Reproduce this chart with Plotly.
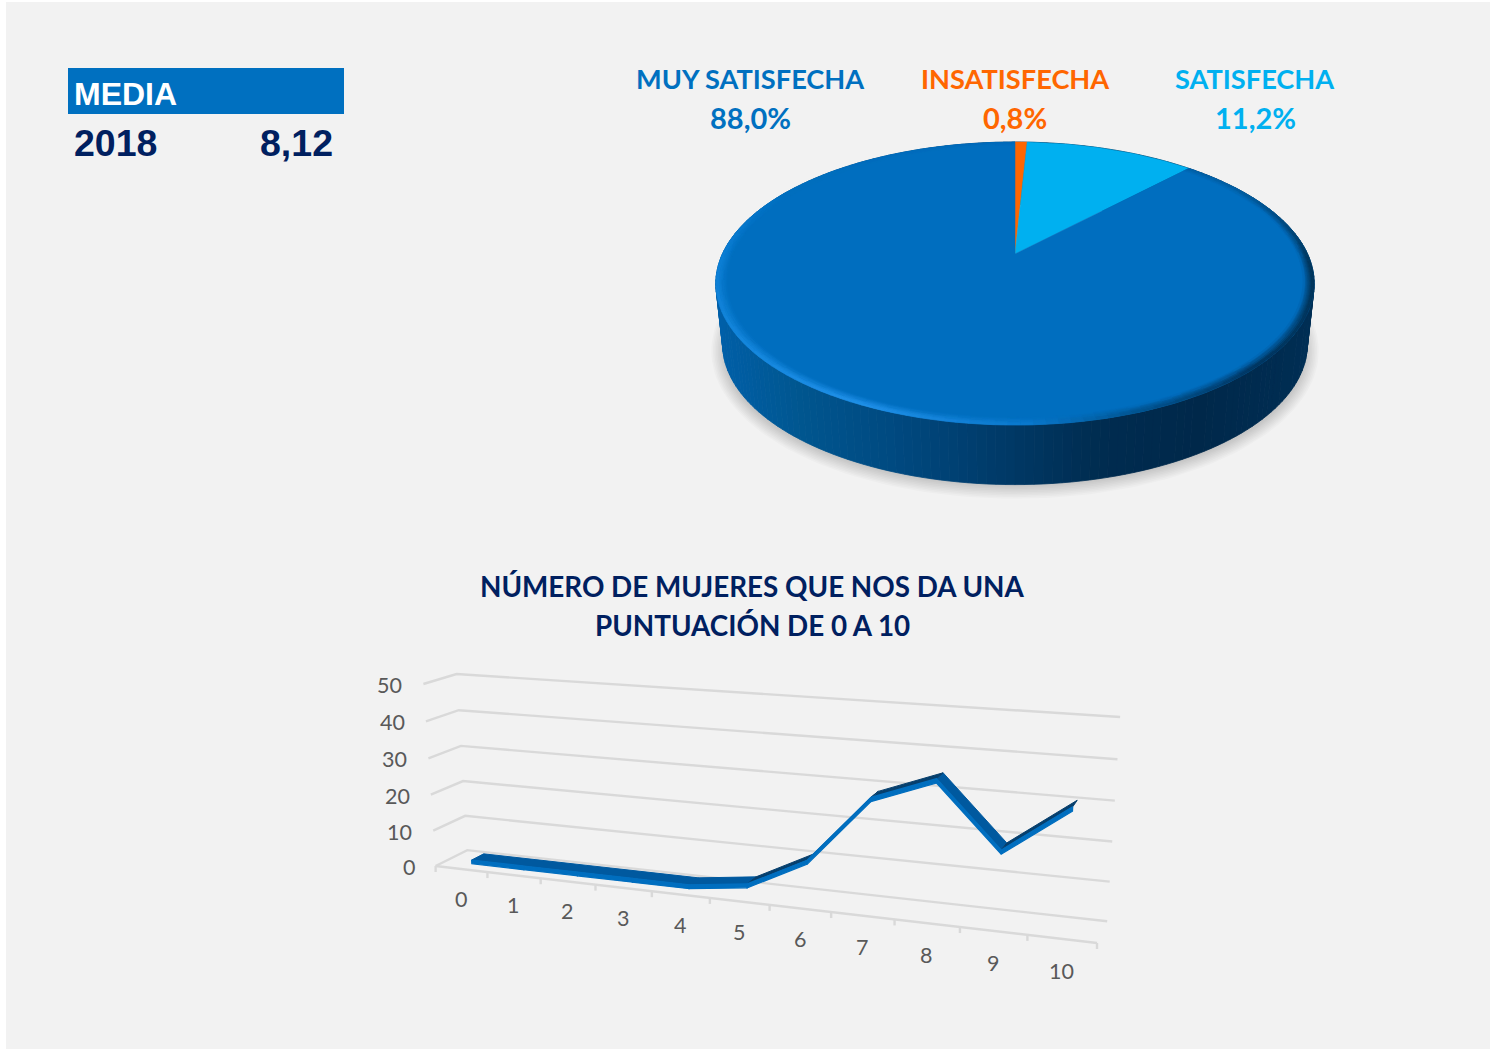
import math
import numpy as np
import plotly.graph_objects as go

# ---------- data ----------
pie_labels = ["INSATISFECHA", "SATISFECHA", "MUY SATISFECHA"]
pie_shares = [0.8, 11.2, 88.0]
pie_share_text = ["0,8%", "11,2%", "88,0%"]
pie_colors = ["#FF6600", "#00B0F0", "#006EBF"]

score_categories = ["0", "1", "2", "3", "4", "5", "6", "7", "8", "9", "10"]
score_values = [1, 1, 1, 1, 1, 3, 11, 28.5, 34.5, 18.5, 30.5]
value_ticks = [0, 10, 20, 30, 40, 50]

media_title = "MEDIA"
media_year = "2018"
media_value = "8,12"
chart_title = ["NÚMERO DE MUJERES QUE NOS DA UNA", "PUNTUACIÓN DE 0 A 10"]

NAVY = "#002060"
BLUE = "#0070C0"
BASE = (0, 110, 191)

traces = []


def hex_rgb(h):
    h = h.lstrip("#")
    return tuple(int(h[i:i + 2], 16) for i in (0, 2, 4))


def mix(a, b, t):
    return tuple(a[i] + (b[i] - a[i]) * t for i in range(3))


def ramp(stops, x):
    if x <= stops[0][0]:
        return hex_rgb(stops[0][1])
    for (x0, c0), (x1, c1) in zip(stops, stops[1:]):
        if x <= x1:
            return mix(hex_rgb(c0), hex_rgb(c1), (x - x0) / (x1 - x0))
    return hex_rgb(stops[-1][1])


def css(c, q=1):
    return "rgb(%d,%d,%d)" % tuple(min(255, int(round(v / q) * q)) for v in c)


def add_polys(polys, line=0.8):
    """polys: list of (color, [(x, y), ...]); merged per colour, order kept by first use."""
    groups = {}
    for c, pts in polys:
        g = groups.setdefault(c, ([], []))
        for p in pts + [pts[0]]:
            g[0].append(p[0])
            g[1].append(p[1])
        g[0].append(None)
        g[1].append(None)
    for c, (xs, ys) in groups.items():
        traces.append(go.Scatter(x=xs, y=ys, mode="lines", fill="toself", fillcolor=c,
                                 line=dict(color=c, width=line), hoverinfo="skip"))


# ---------- tilted pie: disc -> screen mapping ----------
CX, CY = 1015.0, 254.0
PK = 0.2085
PA, PB = 292.6, 135.35


def top_pt(theta_deg, r=1.0):
    t = math.radians(theta_deg)
    u, v = r * math.sin(t), r * math.cos(t)
    w = 1 + PK * v
    return (CX + PA * u / w, CY - PB * v / w)


def bottom_pt(theta_deg):
    x, y = top_pt(theta_deg)
    return (CX + (x - CX) * 0.977, 345 + (y - 284) * 0.99)


# soft shadow
for i in range(9):
    rx, ry = 291 + i * 1.6, 135 + i * 1.6
    ang = np.linspace(0, 2 * np.pi, 181)
    traces.append(go.Scatter(x=(CX + rx * np.cos(ang)).tolist(),
                             y=(351 + ry * np.sin(ang)).tolist(),
                             mode="lines", fill="toself",
                             fillcolor="rgba(0,0,0,0.018)", line=dict(width=0),
                             hoverinfo="skip"))

# side wall
WALL = [(715, "#005fa8"), (800, "#00568f"), (900, "#00487f"), (1000, "#003a68"),
        (1100, "#002c50"), (1200, "#00284a"), (1314, "#002e54")]
polys = []
STEP = 1.5
for th in np.arange(0, 360, STEP):
    a, b = top_pt(th), top_pt(th + STEP)
    c, d = bottom_pt(th + STEP), bottom_pt(th)
    polys.append((css(ramp(WALL, (a[0] + b[0]) / 2)), [a, b, c, d]))
add_polys(polys)

# top-face slices, clockwise from 12 o'clock
start = 0.0
bounds = []
for share, col in zip(pie_shares, pie_colors):
    end = start + share * 3.6
    arc = np.arange(start, end, 1.0).tolist() + [end]
    traces.append(go.Scatter(x=[CX] + [top_pt(t)[0] for t in arc] + [CX],
                             y=[CY] + [top_pt(t)[1] for t in arc] + [CY],
                             mode="lines", fill="toself", fillcolor=col,
                             line=dict(color=col, width=0.5), hoverinfo="skip"))
    bounds.append((start, end))
    start = end

# bevel on the rim of the largest slice
RIM = [(0, "#006ab8"), (60, "#005c9f"), (95, "#003459"), (135, "#00345e"), (160, "#00538f"),
       (178, "#0a78cc"), (205, "#2090e8"), (235, "#1486dc"), (270, "#0c7ed4"), (300, "#006EBF"), (360, "#006ab8")]
RINGS = 7
WIDTH = 0.036
polys = []
s0, s1 = bounds[2]
RIM_STEP = 2.0
for th in np.arange(s0, s1, RIM_STEP):
    th2 = min(th + RIM_STEP, s1)
    rimc = ramp(RIM, (th + th2) / 2)
    for j in range(RINGS):
        r0 = 1 - WIDTH + WIDTH * j / RINGS
        r1 = 1 - WIDTH + WIDTH * (j + 1) / RINGS
        t = min(1.0, ((j + 0.5) / RINGS) * 1.25)
        col = css(mix(BASE, rimc, t), 2)
        polys.append((col, [top_pt(th, r0), top_pt(th2, r0), top_pt(th2, r1), top_pt(th, r1)]))
add_polys(polys, line=0.6)

# ---------- 3D line chart: projective camera fitted on the box corners ----------
N = len(score_categories)
box_world = [(0, 0, 0), (0, 1, 0), (N, 1, 0), (N, 0, 0), (0, 1, 50), (N, 1, 50), (0, 0, 50), (N, 1, 10), (0, 1, 10)]
box_screen = [(436, 866), (467, 850), (1107, 921), (1097, 943), (457, 674), (1120, 717), (423, 684), (1110, 882), (465, 816)]
A = []
for (X, D, V), (u, v) in zip(box_world, box_screen):
    A.append([X, D, V, 1, 0, 0, 0, 0, -u * X, -u * D, -u * V, -u])
    A.append([0, 0, 0, 0, X, D, V, 1, -v * X, -v * D, -v * V, -v])
scale = np.array([1 / 1000] * 4 + [1 / 1000] * 4 + [1.0] * 4)
_, _, Vt = np.linalg.svd(np.array(A, dtype=float) * scale)
P = (Vt[-1] * scale).reshape(3, 4)


def proj(X, D, V):
    p = P @ np.array([X, D, V, 1.0])
    return (p[0] / p[2], p[1] / p[2])


GRID = "#d9d9d9"
gx, gy = [], []
for val in value_ticks:
    for p in (proj(0, 0, val), proj(0, 1, val), proj(N, 1, val)):
        gx.append(p[0])
        gy.append(p[1])
    gx.append(None)
    gy.append(None)
for p in (proj(0, 0, 0), proj(N, 0, 0)):
    gx.append(p[0])
    gy.append(p[1])
gx.append(None)
gy.append(None)
for i in range(N + 1):
    p = proj(i, 0, 0)
    gx += [p[0], p[0], None]
    gy += [p[1], p[1] + 6, None]
traces.append(go.Scatter(x=gx, y=gy, mode="lines", line=dict(color=GRID, width=2.4), hoverinfo="skip"))

# ribbon
D_FRONT, D_BACK, THICK = 0.33, 0.72, 1.05
tops, fronts = [], []
for i in range(N - 1):
    x0, x1 = i + 0.5, i + 1.5
    v0, v1 = score_values[i], score_values[i + 1]
    col = "#063f6d" if v1 - v0 > 3 else "#00599f"
    tops.append((col, [proj(x0, D_FRONT, v0), proj(x1, D_FRONT, v1), proj(x1, D_BACK, v1), proj(x0, D_BACK, v0)]))
    fronts.append(("#006EBF", [proj(x0, D_FRONT, v0), proj(x1, D_FRONT, v1),
                               proj(x1, D_FRONT, v1 - THICK), proj(x0, D_FRONT, v0 - THICK)]))
add_polys(tops, line=1.0)
add_polys(fronts, line=1.2)

# ---------- text ----------
ann = []


def text(x, y, s, size, color, family="Lato", bold=False, anchor="center"):
    ann.append(dict(x=x, y=y, xref="x", yref="y", text="<b>%s</b>" % s if bold else s,
                    showarrow=False, xanchor=anchor, yanchor="middle",
                    font=dict(family=family, size=size, color=color)))


ARIAL = "Liberation Sans"
text(72, 94, media_title, 32, "#ffffff", ARIAL, True, "left")
text(72, 143, media_year, 37.5, NAVY, ARIAL, True, "left")
text(335, 143, media_value, 37.5, NAVY, ARIAL, True, "right")

label_pos = {"MUY SATISFECHA": 750, "INSATISFECHA": 1015, "SATISFECHA": 1255}
for name, pct, col in zip(pie_labels, pie_share_text, ["#FF6600", "#00B0F0", "#0070C0"]):
    text(label_pos[name], 78, name, 27.2, col, bold=True)
    text(label_pos[name], 117.5, pct, 29, col, bold=True)

for ln, yy in zip(chart_title, (586, 625)):
    text(752, yy, ln, 27.8, NAVY, bold=True)

for val in value_ticks:
    p = proj(0, 0, val)
    text(p[0] - 19, p[1] + 1, str(val), 21.5, "#595959", anchor="right")
for i, c in enumerate(score_categories):
    p = proj(i + 0.5, 0, 0)
    text(p[0] - 0.5, p[1] + 29.5 + 0.25 * i, c, 21.5, "#595959")

fig = go.Figure(traces)
axis = dict(visible=False, showgrid=False, zeroline=False, fixedrange=True)
fig.update_layout(
    width=1491, height=1049, margin=dict(l=0, r=0, t=0, b=0, pad=0),
    paper_bgcolor="#ffffff", plot_bgcolor="#ffffff", showlegend=False,
    xaxis=dict(range=[0, 1491], domain=[0, 1], **axis),
    yaxis=dict(range=[1049, 0], domain=[0, 1], **axis),
    annotations=ann,
    shapes=[
        dict(type="rect", xref="x", yref="y", x0=6, x1=1490, y0=2, y1=1049,
             fillcolor="#f2f2f2", line=dict(width=0), layer="below"),
        dict(type="rect", xref="x", yref="y", x0=68, x1=344, y0=68, y1=114,
             fillcolor=BLUE, line=dict(width=0), layer="below"),
    ],
)
fig.write_html("out.html", config=dict(displayModeBar=False),
               post_script="document.body.style.margin='0';document.body.style.overflow='hidden';")
